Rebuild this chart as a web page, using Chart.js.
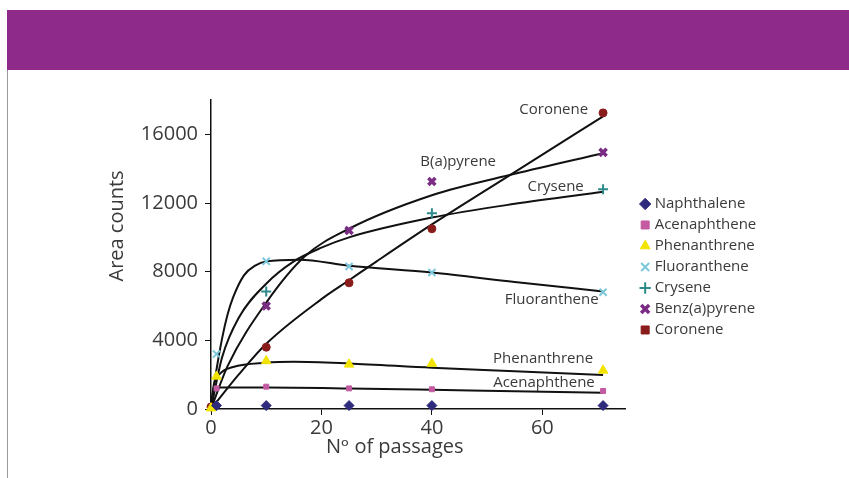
<!DOCTYPE html>
<html>
<head>
<meta charset="utf-8">
<script src="https://cdn.jsdelivr.net/npm/chart.js"></script>
<style>
  html, body { margin: 0; padding: 0; background: #fff; }
  body { width: 849px; height: 478px; position: relative; overflow: hidden; }
  .banner { position: absolute; left: 7px; top: 10px; width: 842px; height: 60px; background: #8e2a8a; }
  .edge { position: absolute; left: 7px; top: 70px; width: 1px; height: 408px; background: #9a9a9a; }
  .wrap { position: absolute; left: 8px; top: 70px; width: 841px; height: 408px; }
</style>
</head>
<body>
<div class="banner"></div>
<div class="edge"></div>
<div class="wrap"><canvas id="pahChart" width="841" height="408"></canvas></div>
<script>
// measured passages (x) and area counts per compound, null = no marker
const passages = [0, 1, 10, 25, 40, 71];
const naphthalene  = [null, 200, 200, 200, 200, 200];
const acenaphthene = [null, 1200, 1300, 1200, 1150, 1050];
const phenanthrene = [50, 1900, 2800, 2600, 2650, 2250];
const fluoranthene = [null, 3200, 8600, 8300, 7950, 6800];
const crysene      = [null, null, 6850, null, 11400, 12800];
const benzapyrene  = [null, null, 6000, 10400, 13250, 14950];
const coronene     = [120, null, 3600, 7350, 10500, 17250];

// fitted curves, [x, y]
const acenFit = [[0, 0], [0.5, 1250], [10, 1250], [25, 1200], [40, 1120], [55, 1030], [71, 950]];
const phenFit = [[0, 0], [0.5, 1400], [1.6, 2050], [4, 2450], [10, 2700], [15, 2750], [25, 2650], [40, 2400], [55, 2200], [71, 1980]];
const fluoFit = [[0, 0], [1, 2300], [2, 4100], [3, 5500], [4, 6500], [6, 7800], [8, 8350], [10, 8600], [16, 8700], [25, 8350], [40, 7950], [55, 7400], [71, 6850]];
const crysFit = [[0, 0], [2, 3000], [5, 5300], [10, 7300], [15, 8600], [20, 9400], [25, 10000], [40, 11150], [55, 11950], [71, 12650]];
const bapFit  = [[0, 0], [3, 2500], [10, 6200], [17, 8900], [25, 10500], [40, 12450], [55, 13700], [71, 14900]];
const coroFit = [[0, 0], [5, 2000], [10, 3800], [20, 6400], [25, 7500], [30, 8600], [40, 10750], [55, 13800], [71, 17050]];

const yTicks = [0, 4000, 8000, 12000, 16000];
const xTicks = [0, 20, 40, 60];

// curve names written next to the fits: text, x, y (data units), align
const curveNames  = ['Coronene', 'B(a)pyrene', 'Crysene', 'Fluoranthene', 'Phenanthrene', 'Acenaphthene'];
const curveNameX  = [68.3, 37.9, 67.5, 70.2, 69.2, 69.5];
const curveNameY  = [17450, 14400, 12950, 6390, 2935, 1554];
const curveAlign  = ['right', 'left', 'right', 'right', 'right', 'right'];

const toPts = vals => passages.map((x, i) => ({ x: x, y: vals[i] })).filter(p => p.y !== null);
const toFit = arr => arr.map(p => ({ x: p[0], y: p[1] }));

const txt = '#3a3a3a';
const font = '"Open Sans", "DejaVu Sans", sans-serif';
const nb = n => '\u00a0'.repeat(n);

function marker(label, vals, color, style, radius, bw) {
    return {
        label: label,
        data: toPts(vals),
        showLine: false,
        backgroundColor: color,
        borderColor: color,
        pointStyle: style,
        pointRadius: radius,
        pointBorderWidth: bw,
        order: 0
    };
}

function fit(arr) {
    return {
        label: '',
        data: toFit(arr),
        showLine: true,
        borderColor: '#111',
        borderWidth: 2,
        pointRadius: 0,
        cubicInterpolationMode: 'monotone',
        order: 1
    };
}

const legendStyles = ['rectRot', 'rect', 'triangle', 'crossRot', 'cross', 'crossRot', 'rect'];

const curveLabelPlugin = {
    id: 'curveLabels',
    afterDatasetsDraw(chart) {
        const { ctx, scales } = chart;
        ctx.save();
        ctx.font = '15px ' + font;
        ctx.fillStyle = txt;
        ctx.textBaseline = 'middle';
        curveNames.forEach((name, i) => {
            ctx.textAlign = curveAlign[i];
            ctx.fillText(name, scales.x.getPixelForValue(curveNameX[i]), scales.y.getPixelForValue(curveNameY[i]));
        });
        ctx.restore();
    }
};

new Chart(document.getElementById('pahChart'), {
    type: 'scatter',
    data: {
        datasets: [
            marker('Naphthalene', naphthalene, '#2e2a7c', 'rectRot', 5, 1),
            marker('Acenaphthene', acenaphthene, '#c45aa2', 'rect', 3.5, 1),
            marker('Phenanthrene', phenanthrene, '#f2e400', 'triangle', 5.5, 1),
            marker('Fluoranthene', fluoranthene, '#7cc8da', 'crossRot', 5, 2),
            marker('Crysene', crysene, '#2d8b8b', 'cross', 5, 2),
            marker('Benz(a)pyrene', benzapyrene, '#7a2c84', 'crossRot', 5, 3.5),
            marker('Coronene', coronene, '#8b1c1c', 'circle', 4, 1),
            fit(acenFit), fit(phenFit), fit(fluoFit), fit(crysFit), fit(bapFit), fit(coroFit)
        ]
    },
    options: {
        responsive: false,
        animation: false,
        clip: false,
        layout: { padding: { top: 30, left: 0, right: 86, bottom: 0 } },
        scales: {
            x: {
                type: 'linear',
                min: 0,
                max: 75,
                afterBuildTicks: axis => { axis.ticks = xTicks.map(v => ({ value: v })); },
                afterFit: axis => { axis.height = 69; },
                border: { color: '#111', width: 1.5 },
                grid: { display: true, drawOnChartArea: false, drawTicks: true, tickLength: 6, color: '#111' },
                ticks: { color: txt, font: { family: font, size: 20 }, padding: 1, maxRotation: 0, callback: v => String(v) },
                title: { display: true, text: 'Nᵒ of passages' + nb(9), color: txt, font: { family: font, size: 20 }, padding: { top: 0, bottom: 19 } }
            },
            y: {
                min: 0,
                max: 18000,
                afterBuildTicks: axis => { axis.ticks = yTicks.map(v => ({ value: v })); },
                afterFit: axis => { axis.width = 203; },
                border: { color: '#111', width: 1.5 },
                grid: { display: true, drawOnChartArea: false, drawTicks: true, tickLength: 6, color: '#111' },
                ticks: { color: txt, font: { family: font, size: 20 }, padding: 7, callback: v => String(v) },
                title: { display: true, text: nb(11) + 'Area counts', color: txt, font: { family: font, size: 20 }, padding: { top: 97, bottom: 0 } }
            },
            gap: {
                type: 'linear',
                position: 'right',
                display: true,
                afterFit: axis => { axis.width = 12; },
                border: { display: false },
                grid: { display: false },
                ticks: { display: false }
            }
        },
        plugins: {
            tooltip: { enabled: false },
            legend: {
                position: 'right',
                fullSize: false,
                title: { display: true, text: ' ', font: { size: 20.8 }, padding: 0 },
                labels: {
                    usePointStyle: true,
                    boxWidth: 4,
                    boxHeight: 8,
                    padding: 6,
                    color: txt,
                    font: { family: font, size: 15 },
                    filter: item => item.datasetIndex < 7,
                    generateLabels: chart => Chart.defaults.plugins.legend.labels.generateLabels(chart)
                        .map(item => Object.assign(item, { pointStyle: legendStyles[item.datasetIndex] || item.pointStyle }))
                }
            }
        }
    },
    plugins: [curveLabelPlugin]
});
</script>
</body>
</html>
